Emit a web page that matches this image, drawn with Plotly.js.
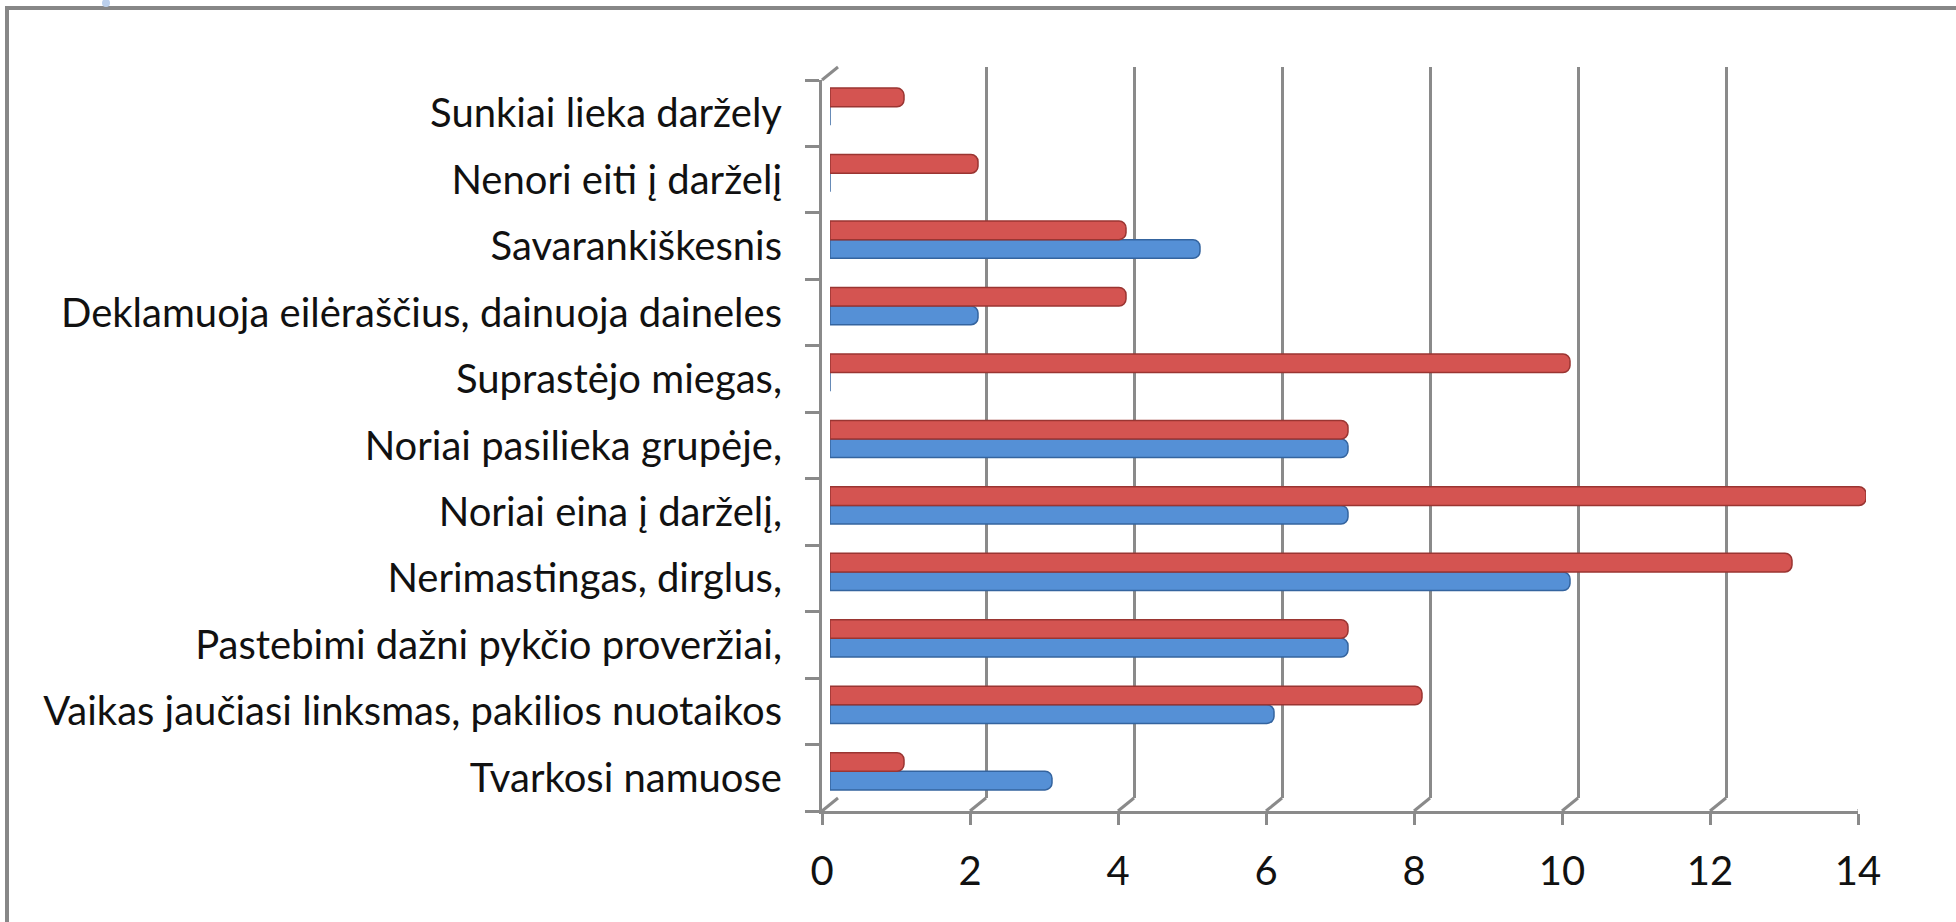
<!DOCTYPE html>
<html>
<head>
<meta charset="utf-8">
<script src="https://cdn.plot.ly/plotly-3.0.1.min.js"></script>
<style>
html,body{margin:0;padding:0;background:#fff;}
#chart{width:1956px;height:922px;}
</style>
</head>
<body>
<div id="chart"></div>
<script>
// Categories listed bottom to top
const categories = [
  "Tvarkosi namuose",
  "Vaikas jaučiasi linksmas, pakilios nuotaikos",
  "Pastebimi dažni pykčio proveržiai,",
  "Nerimastingas, dirglus,",
  "Noriai eina į darželį,",
  "Noriai pasilieka grupėje,",
  "Suprastėjo miegas,",
  "Deklamuoja eilėraščius, dainuoja daineles",
  "Savarankiškesnis",
  "Nenori eiti į darželį",
  "Sunkiai lieka daržely"
];
const seriesBlue = [3, 6, 7, 10, 7, 7, 0, 2, 5, 0, 0];
const seriesRed  = [1, 8, 7, 13, 14, 7, 10, 4, 4, 2, 1];
const xTickVals = [0, 2, 4, 6, 8, 10, 12, 14];

const W = 1956, H = 922;
const px = v => v / W;
const py = v => (H - v) / H;

// front plane: x 822..1858, y 80..811 ; back wall offset (+16, -13)
const FX0 = 822, FX1 = 1858, FY0 = 80, FY1 = 811;
const DX = 16, DY = 13;
const gridCol = '#8a8a8a';
const fontFam = 'Lato, "Open Sans", sans-serif';

const traces = [
  {type:'bar', orientation:'h', x: seriesBlue, y: categories, xaxis:'x2', yaxis:'y2',
   name:'1', marker:{color:'#5590D6', line:{color:'#34649F', width:1.5}, cornerradius:7}, hoverinfo:'x+y'},
  {type:'bar', orientation:'h', x: seriesRed, y: categories, xaxis:'x2', yaxis:'y2',
   name:'2', marker:{color:'#D45451', line:{color:'#9A3532', width:1.5}, cornerradius:7}, hoverinfo:'x+y'},
  {type:'scatter', mode:'markers', x: seriesBlue, y: categories, xaxis:'x3', yaxis:'y3',
   marker:{opacity:0}, hoverinfo:'skip', showlegend:false},
  {type:'scatter', mode:'markers', x: seriesBlue, y: categories, xaxis:'x', yaxis:'y',
   marker:{opacity:0}, hoverinfo:'skip', showlegend:false}
];

const shapes = [];
// frame (left + top border)
shapes.push({type:'line', xref:'paper', yref:'paper', x0:px(7), x1:px(7), y0:py(8), y1:py(922),
  line:{color:'#878787', width:4}});
shapes.push({type:'line', xref:'paper', yref:'paper', x0:px(5), x1:px(1956), y0:py(8), y1:py(8),
  line:{color:'#878787', width:4}});
shapes.push({type:'circle', xref:'paper', yref:'paper', x0:px(102), x1:px(110), y0:py(-1), y1:py(7),
  fillcolor:'#bcd0ec', line:{width:0}});
// floor diagonals joining back grid to front axis
xTickVals.forEach(v => {
  shapes.push({type:'line', xref:'x3', xsizemode:'pixel', xanchor:v, x0:0, x1:DX,
    yref:'paper', y0:py(FY1), y1:py(FY1 - DY), line:{color:gridCol, width:3}});
});
// top-left diagonal
shapes.push({type:'line', xref:'paper', yref:'paper', x0:px(FX0), x1:px(FX0 + DX),
  y0:py(FY0), y1:py(FY0 - DY), line:{color:gridCol, width:3}});

const layout = {
  width: W, height: H,
  margin:{l:0, r:0, t:0, b:0},
  paper_bgcolor:'#ffffff', plot_bgcolor:'rgba(0,0,0,0)',
  showlegend:false,
  barmode:'group', bargap:0.44, bargroupgap:0,
  font:{family:fontFam, color:'#111', size:40},
  // back wall (grid)
  xaxis:{domain:[px(FX0 + DX), px(FX1 + DX)], range:[0,14], anchor:'y',
    showgrid:true, gridcolor:gridCol, gridwidth:3, tickvals:xTickVals,
    zeroline:false, showline:false, showticklabels:false, ticks:''},
  yaxis:{domain:[py(FY1 - DY), py(FY0 - DY)], anchor:'x', type:'category',
    categoryorder:'array', categoryarray:categories, range:[-0.5,10.5],
    showgrid:false, zeroline:false, showline:false, showticklabels:false, ticks:''},
  // bars (mid depth)
  xaxis2:{domain:[px(FX0 + DX/2), px(FX1 + DX/2)], range:[0,14], anchor:'y2', visible:false},
  yaxis2:{domain:[py(FY1 - DY/2), py(FY0 - DY/2)], anchor:'x2', type:'category',
    categoryorder:'array', categoryarray:categories, range:[-0.5,10.5], visible:false},
  // front axes
  xaxis3:{domain:[px(FX0), px(FX1)], range:[0,14], anchor:'y3',
    tickvals:xTickVals, showgrid:false, zeroline:false,
    showline:true, linecolor:gridCol, linewidth:3,
    ticks:'outside', ticklen:11, tickwidth:3, tickcolor:gridCol,
    ticklabelstandoff:12, tickfont:{size:40, family:fontFam, color:'#111'}},
  yaxis3:{domain:[py(FY1), py(FY0)], anchor:'x3', type:'category',
    categoryorder:'array', categoryarray:categories, range:[-0.5,10.5],
    showgrid:false, zeroline:false,
    showline:true, linecolor:gridCol, linewidth:3,
    ticks:'outside', tickson:'boundaries', ticklen:14, tickwidth:3, tickcolor:gridCol,
    ticklabelstandoff:29, tickfont:{size:40, family:fontFam, color:'#111'}},
  shapes: shapes
};

Plotly.newPlot('chart', traces, layout, {displayModeBar:false, staticPlot:true});
</script>
</body>
</html>
